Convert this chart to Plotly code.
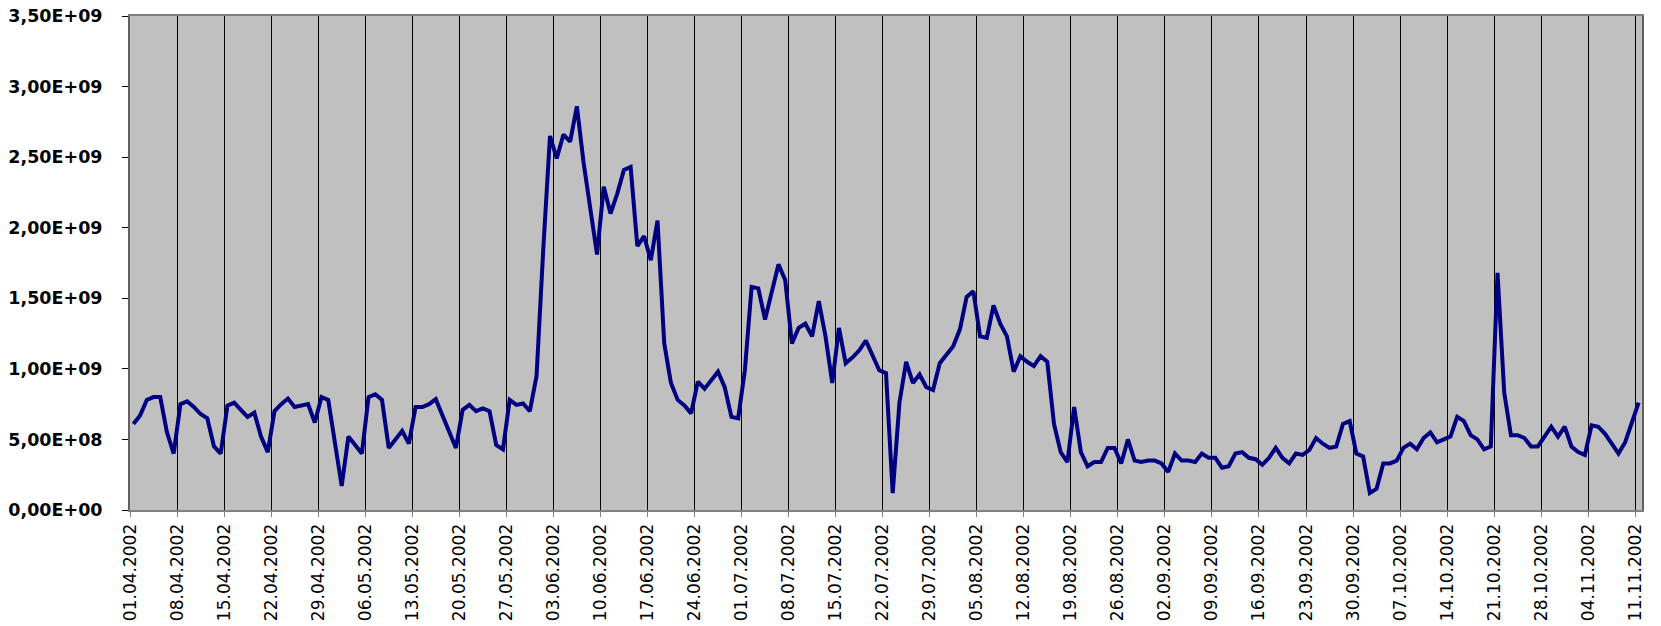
"""Daily series, 01.04.2002 - 11.11.2002, drawn as a single navy line."""
import pandas as pd
import plotly.graph_objects as go

# daily values in units of 1e9, one list per month
apr = [0.61, 0.67, 0.78, 0.80, 0.80, 0.55, 0.40, 0.75, 0.77, 0.73,
       0.68, 0.65, 0.45, 0.40, 0.74, 0.76, 0.71, 0.66, 0.69, 0.52,
       0.41, 0.70, 0.75, 0.79, 0.73, 0.74, 0.75, 0.62, 0.80, 0.78]
may = [0.48, 0.17, 0.52, 0.46, 0.40, 0.80, 0.82, 0.78, 0.44, 0.50,
       0.56, 0.47, 0.73, 0.73, 0.75, 0.785, 0.67, 0.55, 0.44, 0.71,
       0.745, 0.70, 0.72, 0.70, 0.46, 0.43, 0.78, 0.745, 0.755, 0.70,
       0.95]
jun = [1.85, 2.65, 2.49, 2.66, 2.61, 2.86, 2.46, 2.13, 1.81, 2.29,
       2.10, 2.24, 2.41, 2.43, 1.87, 1.94, 1.77, 2.05, 1.18, 0.90,
       0.78, 0.74, 0.685, 0.91, 0.86, 0.92, 0.98, 0.87, 0.66, 0.65]
jul = [0.99, 1.58, 1.57, 1.35, 1.56, 1.74, 1.63, 1.18, 1.29, 1.32,
       1.23, 1.48, 1.23, 0.90, 1.29, 1.04, 1.08, 1.13, 1.20, 1.10,
       0.99, 0.97, 0.12, 0.76, 1.05, 0.90, 0.96, 0.87, 0.85, 1.04,
       1.10]
aug = [1.16, 1.28, 1.51, 1.55, 1.23, 1.22, 1.45, 1.32, 1.23, 0.98,
       1.09, 1.05, 1.02, 1.09, 1.05, 0.61, 0.41, 0.34, 0.73, 0.41,
       0.31, 0.34, 0.34, 0.44, 0.44, 0.33, 0.50, 0.35, 0.34, 0.35,
       0.35]
sep = [0.33, 0.27, 0.40, 0.35, 0.35, 0.34, 0.40, 0.37, 0.37, 0.30,
       0.31, 0.40, 0.41, 0.37, 0.36, 0.32, 0.37, 0.44, 0.37, 0.33,
       0.40, 0.39, 0.425, 0.51, 0.47, 0.44, 0.45, 0.61, 0.63, 0.40]
oct = [0.38, 0.12, 0.15, 0.33, 0.33, 0.35, 0.44, 0.47, 0.43, 0.51,
       0.55, 0.48, 0.50, 0.52, 0.66, 0.63, 0.53, 0.50, 0.43, 0.45,
       1.68, 0.83, 0.53, 0.53, 0.51, 0.45, 0.45, 0.52, 0.59, 0.52,
       0.59]
nov = [0.45, 0.41, 0.39, 0.60, 0.59, 0.54, 0.47, 0.40, 0.48, 0.63,
       0.76]

dates = pd.date_range("2002-04-01", "2002-11-11", freq="D")
values = [v * 1e9 for v in apr + may + jun + jul + aug + sep + oct + nov]

tick_labels = [
    "01.04.2002", "08.04.2002", "15.04.2002", "22.04.2002", "29.04.2002",
    "06.05.2002", "13.05.2002", "20.05.2002", "27.05.2002", "03.06.2002",
    "10.06.2002", "17.06.2002", "24.06.2002", "01.07.2002", "08.07.2002",
    "15.07.2002", "22.07.2002", "29.07.2002", "05.08.2002", "12.08.2002",
    "19.08.2002", "26.08.2002", "02.09.2002", "09.09.2002", "16.09.2002",
    "23.09.2002", "30.09.2002", "07.10.2002", "14.10.2002", "21.10.2002",
    "28.10.2002", "04.11.2002", "11.11.2002",
]
tick_dates = pd.to_datetime(tick_labels, format="%d.%m.%Y")

y_ticks = [0, 0.5e9, 1.0e9, 1.5e9, 2.0e9, 2.5e9, 3.0e9, 3.5e9]
y_labels = ["0,00E+00", "5,00E+08", "1,00E+09", "1,50E+09",
            "2,00E+09", "2,50E+09", "3,00E+09", "3,50E+09"]

fig = go.Figure(
    go.Scatter(
        x=dates,
        y=values,
        mode="lines",
        xperiod=86400000,
        xperiodalignment="middle",
        line=dict(color="#000080", width=4),
        showlegend=False,
    )
)

fig.update_layout(
    width=1661,
    height=626,
    margin=dict(l=130, r=19, t=16, b=116),
    paper_bgcolor="white",
    plot_bgcolor="#C0C0C0",
    xaxis=dict(
        type="date",
        range=["2002-04-01", "2002-11-12"],
        tickvals=tick_dates,
        ticktext=tick_labels,
        tickangle=-90,
        ticks="outside",
        ticklen=5,
        tickcolor="#808080",
        showgrid=True,
        gridcolor="black",
        gridwidth=1,
        showline=True,
        linecolor="#808080",
        linewidth=2,
        mirror=True,
        zeroline=False,
        automargin=False,
        tickfont=dict(family="DejaVu Sans", size=17, color="black"),
    ),
    yaxis=dict(
        range=[0, 3.5e9],
        tickvals=y_ticks,
        ticktext=y_labels,
        ticks="outside",
        ticklen=6,
        tickcolor="black",
        ticklabelstandoff=16,
        showgrid=False,
        showline=True,
        linecolor="#606060",
        linewidth=2,
        mirror=True,
        zeroline=False,
        automargin=False,
        tickfont=dict(family="DejaVu Sans", size=17.5, color="black",
                      weight="bold"),
    ),
)

# the page body has a default 8px margin; drop it so the chart fills the window
fig.write_html(
    "out.html",
    config={"displayModeBar": False},
    post_script="document.body.style.margin = '0';",
)
